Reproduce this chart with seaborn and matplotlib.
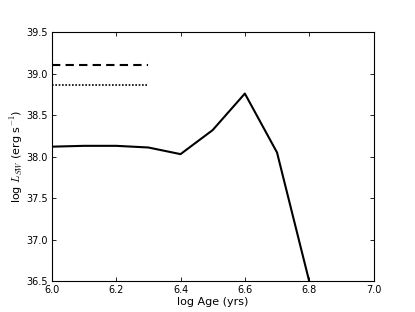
import matplotlib
matplotlib.use("Agg")
import matplotlib.pyplot as plt
import seaborn as sns
import pandas as pd

log_age = [6.0, 6.1, 6.2, 6.3, 6.4, 6.5, 6.6, 6.7, 6.8]
log_lsw = [38.12, 38.13, 38.13, 38.11, 38.03, 38.32, 38.76, 38.05, 36.5]
dashed_x = [6.0, 6.3]
dashed_y = [39.10, 39.10]
dotted_x = [6.0, 6.3]
dotted_y = [38.865, 38.865]
xticks = [6.0, 6.2, 6.4, 6.6, 6.8, 7.0]
yticks = [36.5, 37.0, 37.5, 38.0, 38.5, 39.0, 39.5]

sns.set_style("ticks")
plt.rcParams['font.family'] = ['DejaVu Sans']
plt.rcParams['mathtext.fontset'] = 'cm'
plt.rcParams['mathtext.default'] = 'it'
plt.rcParams['text.color'] = 'black'
plt.rcParams['axes.labelcolor'] = 'black'
plt.rcParams['xtick.color'] = 'black'
plt.rcParams['ytick.color'] = 'black'

fig = plt.figure(figsize=(4.15, 3.12), dpi=100)
ax = fig.add_axes([0.125, 0.099, 0.775, 0.798])

df = pd.DataFrame({"x": log_age, "y": log_lsw})
sns.lineplot(data=df, x="x", y="y", ax=ax, color="black", lw=1.5)
ax.plot(dashed_x, dashed_y, color="black", lw=1.5, ls=(0, (4, 2.5)))
ax.plot(dotted_x, dotted_y, color="black", lw=1.2, ls=(0, (1, 1)))

ax.set_xlim(6.0, 7.0)
ax.set_ylim(36.5, 39.5)
ax.set_xticks(xticks)
ax.set_yticks(yticks)
ax.set_xticklabels([f"{v:.1f}" for v in xticks], fontsize=7)
ax.set_yticklabels([f"{v:.1f}" for v in yticks], fontsize=7)
ax.tick_params(direction="in", top=True, right=True, length=3, width=0.6, pad=3)
for s in ax.spines.values():
    s.set_visible(True)
    s.set_color("black")
    s.set_linewidth(0.8)
ax.set_xlabel("log Age (yrs)", fontsize=8, labelpad=1)
ax.set_ylabel(r"log $L_{SW}$ (erg s$^{-1}$)", fontsize=8, labelpad=1)

fig.savefig("out.png", dpi=100)
